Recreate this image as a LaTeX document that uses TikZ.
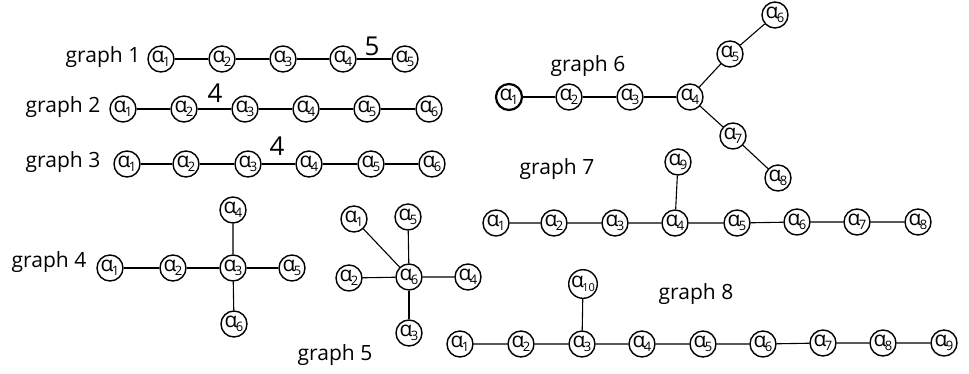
\documentclass[tikz,border=0pt]{standalone}
\usepackage{fontspec}
\setmainfont{Open Sans}
\usetikzlibrary{positioning}
\newcommand{\al}[1]{α\kern-1.6pt\raisebox{-4.5pt}{\fontsize{13}{13}\selectfont #1}}
\tikzset{
  vtx/.style={draw, circle, line width=1.4pt, minimum size=26pt, inner sep=0pt,
              font=\fontsize{21}{21}\selectfont},
  glabel/.style={font=\fontsize{21}{24}\selectfont},
  wlabel/.style={font=\fontsize{26}{28}\selectfont},
  edge/.style={line width=1.1pt}
}
\begin{document}
\begin{tikzpicture}[x=1pt, y=-1pt]
    \useasboundingbox (0,0) rectangle (969,373);
    % graph 1
    \node[glabel] (t1) at (103,57) {graph 1};
    \node[vtx] (a11) at (161,59) {\al{1}};
    \node[vtx] (a12) at (222,59) {\al{2}};
    \node[vtx] (a13) at (283,59) {\al{3}};
    \node[vtx] (a14) at (343,59) {\al{4}};
    \node[vtx] (a15) at (405,59) {\al{5}};
    \node[wlabel] (w1) at (372,46) {5};
    \draw[edge] (a11) -- (a12) -- (a13) -- (a14) -- (a15);

    % graph 2
    \node[glabel] (t2) at (63,107) {graph 2};
    \node[vtx] (a21) at (123,109) {\al{1}};
    \node[vtx] (a22) at (184,109) {\al{2}};
    \node[vtx] (a23) at (245,109) {\al{3}};
    \node[vtx] (a24) at (306,109) {\al{4}};
    \node[vtx] (a25) at (367,109) {\al{5}};
    \node[vtx] (a26) at (429,109) {\al{6}};
    \node[wlabel] (w2) at (215,93) {4};
    \draw[edge] (a21) -- (a22) -- (a23) -- (a24) -- (a25) -- (a26);

    % graph 3
    \node[glabel] (t3) at (63,162) {graph 3};
    \node[vtx] (a31) at (127,164) {\al{1}};
    \node[vtx] (a32) at (186,164) {\al{2}};
    \node[vtx] (a33) at (248,164) {\al{3}};
    \node[vtx] (a34) at (309,164) {\al{4}};
    \node[vtx] (a35) at (371,164) {\al{5}};
    \node[vtx] (a36) at (432,164) {\al{6}};
    \node[wlabel] (w3) at (277,146) {4};
    \draw[edge] (a31) -- (a32) -- (a33) -- (a34) -- (a35) -- (a36);

    % graph 4
    \node[glabel] (t4) at (49,262) {graph 4};
    \node[vtx] (a41) at (110,268) {\al{1}};
    \node[vtx] (a42) at (173,268) {\al{2}};
    \node[vtx] (a43) at (233,268) {\al{3}};
    \node[vtx] (a44) at (233,210) {\al{4}};
    \node[vtx] (a45) at (292,268) {\al{5}};
    \node[vtx] (a46) at (234,324) {\al{6}};
    \draw[edge] (a41) -- (a42) -- (a43) -- (a45);
    \draw[edge] (a44) -- (a43) -- (a46);

    % graph 5
    \node[glabel] (t5) at (335,355) {graph 5};
    \node[vtx] (a56) at (409,277) {\al{6}};
    \node[vtx] (a51) at (354,219) {\al{1}};
    \node[vtx] (a55) at (408,217) {\al{5}};
    \node[vtx] (a52) at (349,278) {\al{2}};
    \node[vtx] (a54) at (468,277) {\al{4}};
    \node[vtx] (a53) at (409,333) {\al{3}};
    \draw[edge] (a51) -- (a56);
    \draw[edge] (a55) -- (a56);
    \draw[edge] (a52) -- (a56) -- (a54);
    \draw[edge] (a56) -- (a53);

    % graph 6
    \node[glabel] (t6) at (588,66) {graph 6};
    \node[vtx, line width=2.2pt] (a61) at (509,97) {\al{1}};
    \node[vtx] (a62) at (569,97) {\al{2}};
    \node[vtx] (a63) at (630,97) {\al{3}};
    \node[vtx] (a64) at (690,97) {\al{4}};
    \node[vtx] (a65) at (730,54) {\al{5}};
    \node[vtx] (a66) at (775,15) {\al{6}};
    \node[vtx] (a67) at (733,136) {\al{7}};
    \node[vtx] (a68) at (778,178) {\al{8}};
    \draw[edge] (a61) -- (a62) -- (a63) -- (a64);
    \draw[edge] (a64) -- (a65) -- (a66);
    \draw[edge] (a64) -- (a67) -- (a68);

    % graph 7
    \node[glabel] (t7) at (557,169) {graph 7};
    \node[vtx] (a79) at (678,162) {\al{9}};
    \node[vtx] (a71) at (496,223) {\al{1}};
    \node[vtx] (a72) at (554,223) {\al{2}};
    \node[vtx] (a73) at (615,223) {\al{3}};
    \node[vtx] (a74) at (675,223) {\al{4}};
    \node[vtx] (a75) at (737,223) {\al{5}};
    \node[vtx] (a76) at (797,222) {\al{6}};
    \node[vtx] (a77) at (857,222) {\al{7}};
    \node[vtx] (a78) at (918,222) {\al{8}};
    \draw[edge] (a71) -- (a72) -- (a73) -- (a74) -- (a75) -- (a76) -- (a77) -- (a78);
    \draw[edge] (a79) -- (a74);

    % graph 8
    \node[glabel] (t8) at (696,294) {graph 8};
    \node[vtx] (a810) at (583,284) {α\kern-1.6pt\raisebox{-4.5pt}{\fontsize{11}{11}\selectfont 10}};
    \node[vtx] (a81) at (460,344) {\al{1}};
    \node[vtx] (a82) at (521,344) {\al{2}};
    \node[vtx] (a83) at (582,344) {\al{3}};
    \node[vtx] (a84) at (642,344) {\al{4}};
    \node[vtx] (a85) at (703,344) {\al{5}};
    \node[vtx] (a86) at (763,344) {\al{6}};
    \node[vtx] (a87) at (823,343) {\al{7}};
    \node[vtx] (a88) at (883,343) {\al{8}};
    \node[vtx] (a89) at (944,343) {\al{9}};
    \draw[edge] (a81) -- (a82) -- (a83) -- (a84) -- (a85) -- (a86) -- (a87) -- (a88) -- (a89);
    \draw[edge] (a810) -- (a83);
\end{tikzpicture}
\end{document}
